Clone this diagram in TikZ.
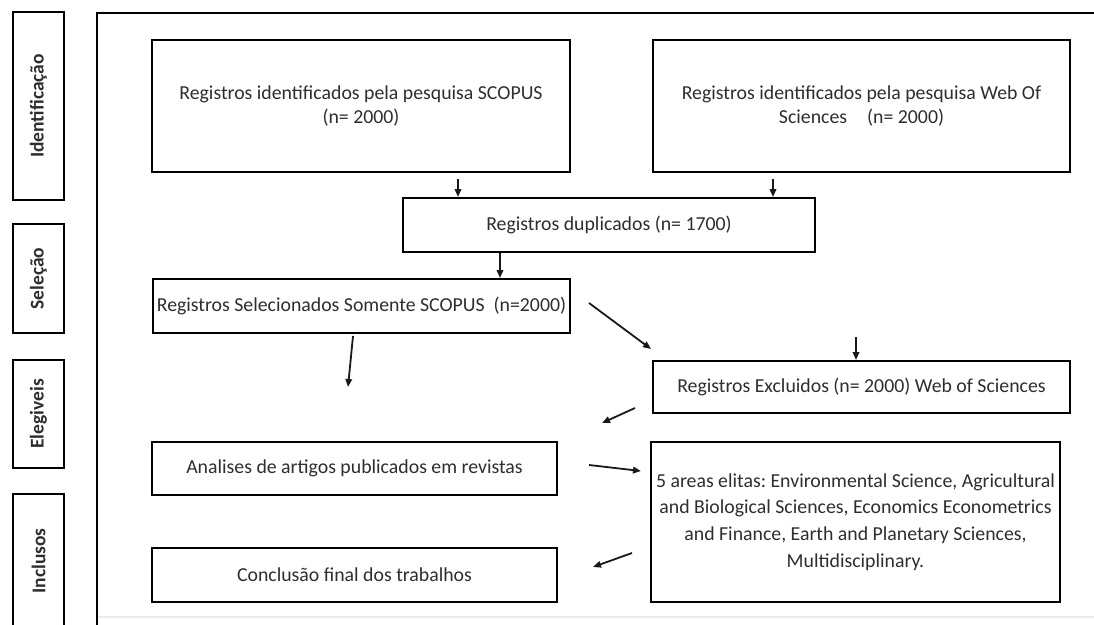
\documentclass[tikz,border=0pt]{standalone}
\usepackage{fontspec}
\setmainfont{Carlito}
\usetikzlibrary{arrows.meta}
\frenchspacing
\definecolor{txt}{HTML}{2E2E2E}
\tikzset{
  box/.style={draw=black, line width=2pt, inner sep=0pt, align=center, text=txt,
              font=\fontsize{19.8}{23.5}\selectfont},
  phase/.style={draw=black, line width=2pt, inner sep=0pt, minimum width=51pt,
                text=txt, font=\fontsize{19.5}{22}\selectfont\bfseries},
  arr/.style={line width=1.8pt, draw=black!90, -{Triangle[length=8pt,width=6.5pt]}},
}
\begin{document}
\begin{tikzpicture}[x=1pt,y=-1pt]
\useasboundingbox (0,0) rectangle (1094,624);
\fill[white] (0,0) rectangle (1094,624);
% outer frame
\draw[black!8, line width=1.5pt] (98,617) -- (1094,617);
\draw[line width=2.2pt] (97,640) -- (97,13) -- (1110,13);
% phase labels
\node[phase, minimum height=188pt] (pid) at (38.5,106) {\rotatebox{90}{Identificação}};
\node[phase, minimum height=109pt] (psel) at (38.5,278.5) {\rotatebox{90}{Seleção}};
\node[phase, minimum height=108pt] (pele) at (38.5,414) {\rotatebox{90}{Elegiveis}};
\node[phase, minimum height=134pt] (pinc) at (38.5,561) {\rotatebox{90}{Inclusos}};
% boxes
\node[box, minimum width=418pt, minimum height=132pt] (scopus) at (361,106)
  {Registros identificados pela pesquisa SCOPUS\\(n= 2000)};
\node[box, minimum width=417pt, minimum height=132pt] (wos) at (861.5,106)
  {Registros identificados pela pesquisa Web Of\\Sciences\hspace{20pt}(n= 2000)};
\node[box, minimum width=412pt, minimum height=54pt] (dup) at (609,225)
  {Registros duplicados (n= 1700)};
\node[box, minimum width=417pt, minimum height=54pt] (sel) at (361.5,306)
  {Registros Selecionados Somente SCOPUS\ \ (n=2000)};
\node[box, minimum width=417pt, minimum height=52pt] (exc) at (861.5,387)
  {Registros Excluidos (n= 2000) Web of Sciences};
\node[box, minimum width=405pt, minimum height=53pt] (anal) at (354.5,468.5)
  {Analises de artigos publicados em revistas};
\node[box, minimum width=409pt, minimum height=160pt, font=\fontsize{19.8}{26.7}\selectfont] (areas) at (855.5,522)
  {5 areas elitas: Environmental Science, Agricultural\\and Biological Sciences, Economics Econometrics\\and Finance, Earth and Planetary Sciences,\\Multidisciplinary.};
\node[box, minimum width=405pt, minimum height=54pt] (concl) at (354.5,575)
  {Conclusão final dos trabalhos};
% coordinates
\coordinate (x1) at (458,0);
\coordinate (x2) at (773,0);
\coordinate (x3) at (500,0);
\coordinate (e5) at (348,387);
\coordinate (s6) at (856,337);
\coordinate (s7) at (635,408);
\coordinate (e7) at (602,423);
% arrows
\draw[arr, shorten <=6pt] (x1 |- scopus.south) -- (x1 |- dup.north);
\draw[arr, shorten <=6pt] (x2 |- wos.south) -- (x2 |- dup.north);
\draw[arr] (x3 |- dup.south) -- (x3 |- sel.north);
\draw[arr] ([shift={(18pt,3pt)}]sel.east) -- ([shift={(-1pt,11pt)}]exc.north west);
\draw[arr] ([shift={(-8.5pt,-2pt)}]sel.south) -- (e5);
\draw[arr] (s6) -- (s6 |- exc.north);
\draw[arr] (s7) -- (e7);
\draw[arr] ([shift={(31pt,3.5pt)}]anal.east) -- ([shift={(-9pt,-30pt)}]areas.north west);
\draw[arr] ([shift={(-18pt,50pt)}]areas.south west) -- ([shift={(35pt,8pt)}]concl.east);
\end{tikzpicture}
\end{document}
